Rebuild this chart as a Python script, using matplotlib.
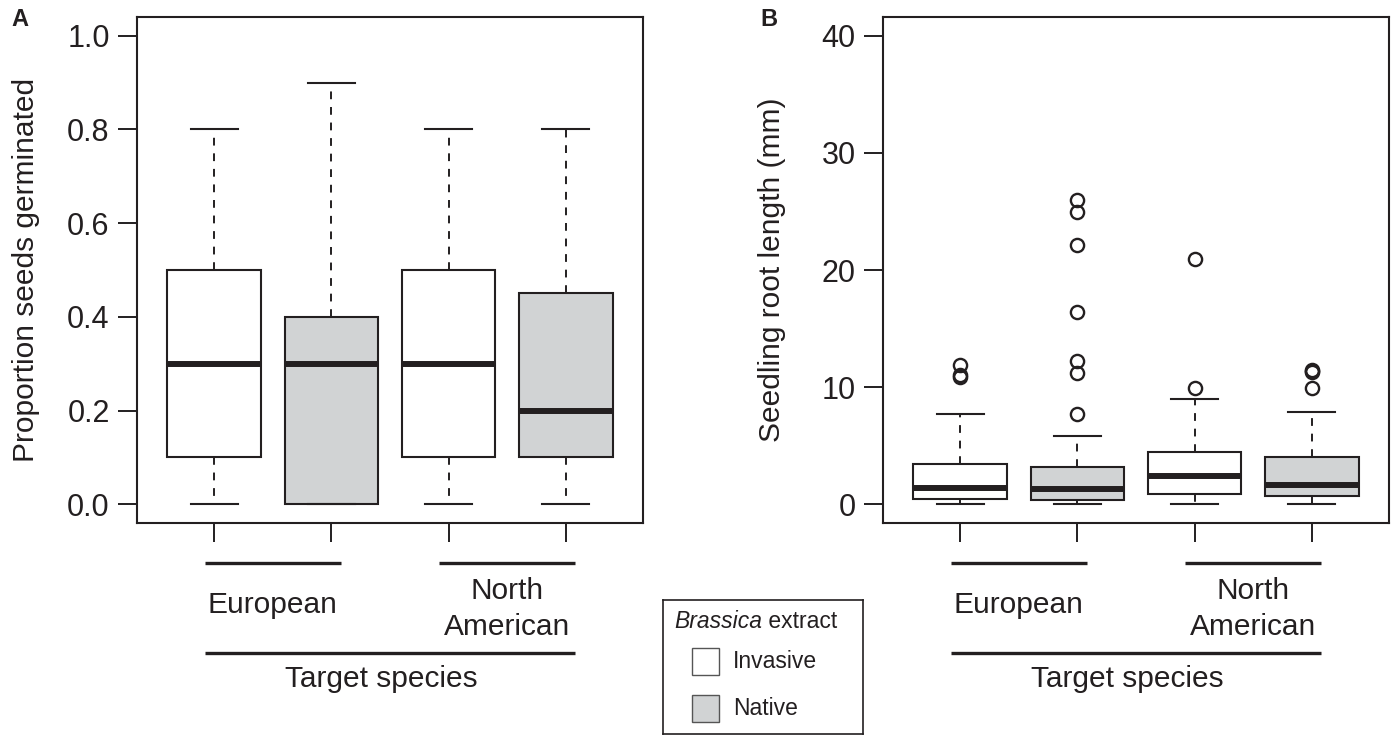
import matplotlib
matplotlib.use("Agg")
import matplotlib.pyplot as plt
import matplotlib.transforms as mtransforms
from matplotlib.patches import Rectangle

plt.rcParams['font.family'] = ['Liberation Sans', 'DejaVu Sans']

INK = '#231f20'
GREY = '#d1d3d4'

# box order: European-Invasive, European-Native, NorthAm-Invasive, NorthAm-Native
extract = ['Invasive', 'Native', 'Invasive', 'Native']
groups = ['European', 'North\nAmerican']

# panel A: proportion germinated (whislo, q1, med, q3, whishi)
germ_lo = [0.0, 0.0, 0.0, 0.0]
germ_q1 = [0.1, 0.0, 0.1, 0.1]
germ_med = [0.3, 0.3, 0.3, 0.2]
germ_q3 = [0.5, 0.4, 0.5, 0.45]
germ_hi = [0.8, 0.9, 0.8, 0.8]
germ_out = [[], [], [], []]

# panel B: root length (mm)
root_lo = [0.0, 0.05, 0.05, 0.05]
root_q1 = [0.48, 0.34, 0.91, 0.68]
root_med = [1.42, 1.28, 2.39, 1.65]
root_q3 = [3.45, 3.19, 4.42, 4.05]
root_hi = [7.69, 5.87, 8.95, 7.86]
root_out = [[11.9, 11.0, 10.9],
            [25.96, 24.96, 22.17, 16.4, 12.27, 11.18, 7.72],
            [20.97, 9.95],
            [11.5, 11.4, 11.3, 9.95]]


def make_stats(lo, q1, med, q3, hi, out):
    return [dict(whislo=a, q1=b, med=c, q3=d, whishi=e, fliers=f)
            for a, b, c, d, e, f in zip(lo, q1, med, q3, hi, out)]


def draw_panel(ax, stats, ylim, yticks, fmt, ylabel):
    pos = [1, 2, 3, 4]
    art = ax.bxp(stats, positions=pos, widths=0.8, capwidths=0.4,
                 patch_artist=True, manage_ticks=False,
                 boxprops=dict(edgecolor=INK, linewidth=1.5),
                 medianprops=dict(color=INK, linewidth=4.3, solid_capstyle='butt'),
                 whiskerprops=dict(color=INK, linewidth=1.4, linestyle=(0, (4, 4))),
                 capprops=dict(color=INK, linewidth=1.5),
                 flierprops=dict(marker='o', markerfacecolor='none', markeredgecolor=INK,
                                 markersize=9.5, markeredgewidth=1.7))
    for b, e in zip(art['boxes'], extract):
        b.set_facecolor('white' if e == 'Invasive' else GREY)
    ax.set_xlim(0.34, 4.66)
    ax.set_ylim(*ylim)
    ax.set_yticks(yticks)
    ax.set_yticklabels([fmt.format(t) for t in yticks])
    ax.set_xticks(pos)
    ax.set_xticklabels([])
    ax.tick_params(axis='both', length=13.7, width=1.4, color=INK, labelsize=22,
                   labelcolor=INK, pad=6)
    for s in ax.spines.values():
        s.set_linewidth(1.5)
        s.set_color(INK)
    ax.set_ylabel(ylabel, fontsize=21.5, color=INK)
    ax.yaxis.set_label_coords(-0.192, 0.5)

    tr = mtransforms.blended_transform_factory(ax.transData, ax.transAxes)
    centers = [1.5, 3.5]
    for c, g in zip(centers, groups):
        ax.plot([c - 0.58, c + 0.58], [-0.079, -0.079], color=INK, lw=2.4,
                transform=tr, clip_on=False, solid_capstyle='butt')
        lines = g.split('\n')
        if len(lines) == 1:
            ax.text(c, -0.178, lines[0], transform=tr, ha='center', va='baseline',
                    fontsize=21.5, color=INK)
        else:
            ax.text(c, -0.150, lines[0], transform=tr, ha='center', va='baseline',
                    fontsize=21.5, color=INK)
            ax.text(c, -0.2213, lines[1], transform=tr, ha='center', va='baseline',
                    fontsize=21.5, color=INK)
    ax.plot([centers[0] - 0.58, centers[1] + 0.58], [-0.257, -0.257], color=INK,
            lw=2.4, transform=tr, clip_on=False, solid_capstyle='butt')
    ax.text(2.43, -0.324, 'Target species', transform=tr, ha='center', va='baseline',
            fontsize=21.5, color=INK)


fig = plt.figure(figsize=(13.98, 7.38), dpi=100)
axA = fig.add_axes([137 / 1398, 215 / 738, 506 / 1398, 506 / 738])
axB = fig.add_axes([883 / 1398, 215 / 738, 506 / 1398, 506 / 738])

draw_panel(axA, make_stats(germ_lo, germ_q1, germ_med, germ_q3, germ_hi, germ_out),
           (-0.04, 1.04), [0, 0.2, 0.4, 0.6, 0.8, 1.0], '{:.1f}',
           'Proportion seeds germinated')
draw_panel(axB, make_stats(root_lo, root_q1, root_med, root_q3, root_hi, root_out),
           (-1.6, 41.6), [0, 10, 20, 30, 40], '{:.0f}',
           'Seedling root length (mm)')

for x, letter in [(20, 'A'), (769, 'B')]:
    fig.text(x / 1398, 1 - 20 / 738, letter, ha='center', va='center', fontsize=17,
             fontweight='bold', color=INK,
             family=['Liberation Sans Narrow', 'Liberation Sans'])

# legend panel
axL = fig.add_axes([663 / 1398, 4 / 738, 200 / 1398, 134 / 738])
axL.set_xlim(0, 1)
axL.set_ylim(0, 1)
axL.set_xticks([])
axL.set_yticks([])
for s in axL.spines.values():
    s.set_linewidth(1.2)
    s.set_color(INK)
axL.text(0.495, 0.843, 'Brassica', style='italic', ha='right', va='center',
         fontsize=16.5, color=INK)
axL.text(0.495, 0.843, ' extract', ha='left', va='center', fontsize=16.5, color=INK)
for yb, e in zip([0.44, 0.09], ['Invasive', 'Native']):
    axL.add_patch(Rectangle((0.145, yb), 0.135, 0.2, facecolor='white' if e == 'Invasive' else GREY,
                            edgecolor='#555555', linewidth=1.0))
    axL.text(0.35, yb + 0.1, e, ha='left', va='center', fontsize=16.5, color=INK)

plt.savefig("out.png", dpi=100)
plt.close()
